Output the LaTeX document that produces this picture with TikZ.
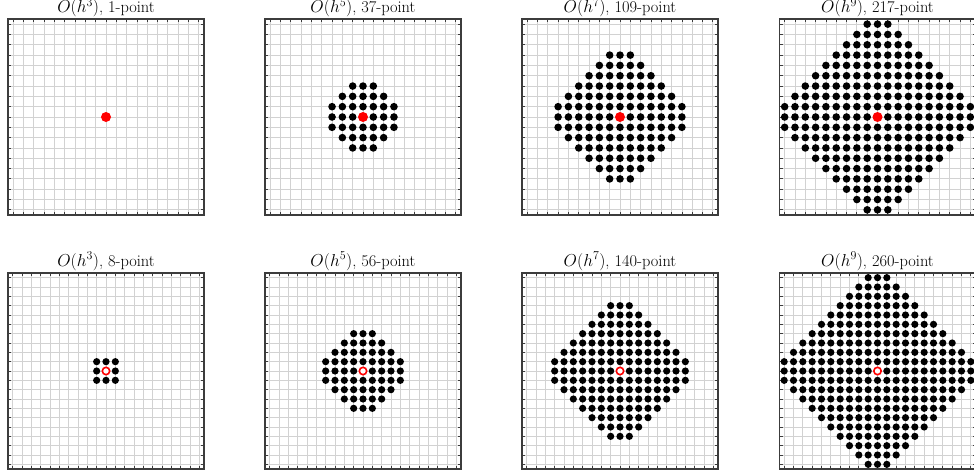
\documentclass[tikz,border=0pt]{standalone}
\begin{document}
\definecolor{gridc}{RGB}{210,210,210}
\definecolor{framec}{RGB}{60,60,60}
\tikzset{
  gridline/.style={draw=gridc, line width=0.8pt},
  frameline/.style={draw=framec, line width=1.4pt},
  tickline/.style={draw=framec, line width=0.8pt},
  ttl/.style={anchor=base, font=\fontsize{16.4}{20}\selectfont, inner sep=0pt},
}
% #1 cx, #2 cy, #3 grid half range M, #4 stencil n, #5 dot radius, #6 type (0 filled red, 1 ring)
\newcommand\drawpanel[6]{%
  \begin{scope}[shift={(#1,#2)}]
    \pgfmathsetmacro\cs{196/(2*#3+1)}
    \pgfmathtruncatemacro\mneg{-#3}
    \foreach \i in {\mneg,...,#3}{
      \draw[gridline] (\i*\cs,-98) -- (\i*\cs,98);
      \draw[gridline] (-98,\i*\cs) -- (98,\i*\cs);
    }
    \foreach \i in {\mneg,...,#3}{
      \draw[tickline] (\i*\cs,-98) -- ++(0,3);
      \draw[tickline] (\i*\cs,98) -- ++(0,-3);
      \draw[tickline] (-98,\i*\cs) -- ++(3,0);
      \draw[tickline] (98,\i*\cs) -- ++(-3,0);
    }
    \draw[frameline] (-98,-98) rectangle (98,98);
    \pgfmathtruncatemacro\kk{#4-1}
    \pgfmathtruncatemacro\kneg{1-#4}
    \foreach \x in {\kneg,...,\kk}{
      \foreach \y in {\kneg,...,\kk}{
        \pgfmathtruncatemacro\s{abs(\x)+abs(\y)}
        \ifnum\s>#4\relax\else
          \ifnum\s=0\relax\else
            \fill[black] (\x*\cs,\y*\cs) circle (#5pt);
          \fi
        \fi
      }
    }
    \ifnum#6=0\relax
      \fill[red] (0,0) circle (5pt);
    \else
      \filldraw[draw=red, fill=white, line width=1.6pt] (0,0) circle (3.7pt);
    \fi
  \end{scope}
}
\begin{tikzpicture}[x=1pt,y=-1pt]
  \useasboundingbox (0,0) rectangle (974,471);
  \clip (0,0) rectangle (974,471);
  % top row
  \drawpanel{106}{117}{9}{1}{3.8}{0}
  \drawpanel{363}{117}{9}{4}{3.8}{0}
  \drawpanel{620}{117}{9}{7}{3.8}{0}
  \drawpanel{877.5}{117}{9}{10}{3.8}{0}
  % bottom row
  \drawpanel{106}{371}{10}{2}{3.6}{1}
  \drawpanel{363}{371}{10}{5}{3.6}{1}
  \drawpanel{620}{371}{10}{8}{3.6}{1}
  \drawpanel{877.5}{371}{10}{11}{3.6}{1}
  % titles
  \node[ttl] (t1) at (106,12.5) {$O(h^3)$, 1-point};
  \node[ttl] (t2) at (363,12.5) {$O(h^5)$, 37-point};
  \node[ttl] (t3) at (620,12.5) {$O(h^7)$, 109-point};
  \node[ttl] (t4) at (877.5,12.5) {$O(h^9)$, 217-point};
  \node[ttl] (t5) at (106,266) {$O(h^3)$, 8-point};
  \node[ttl] (t6) at (363,266) {$O(h^5)$, 56-point};
  \node[ttl] (t7) at (620,266) {$O(h^7)$, 140-point};
  \node[ttl] (t8) at (877.5,266) {$O(h^9)$, 260-point};
\end{tikzpicture}
\end{document}
